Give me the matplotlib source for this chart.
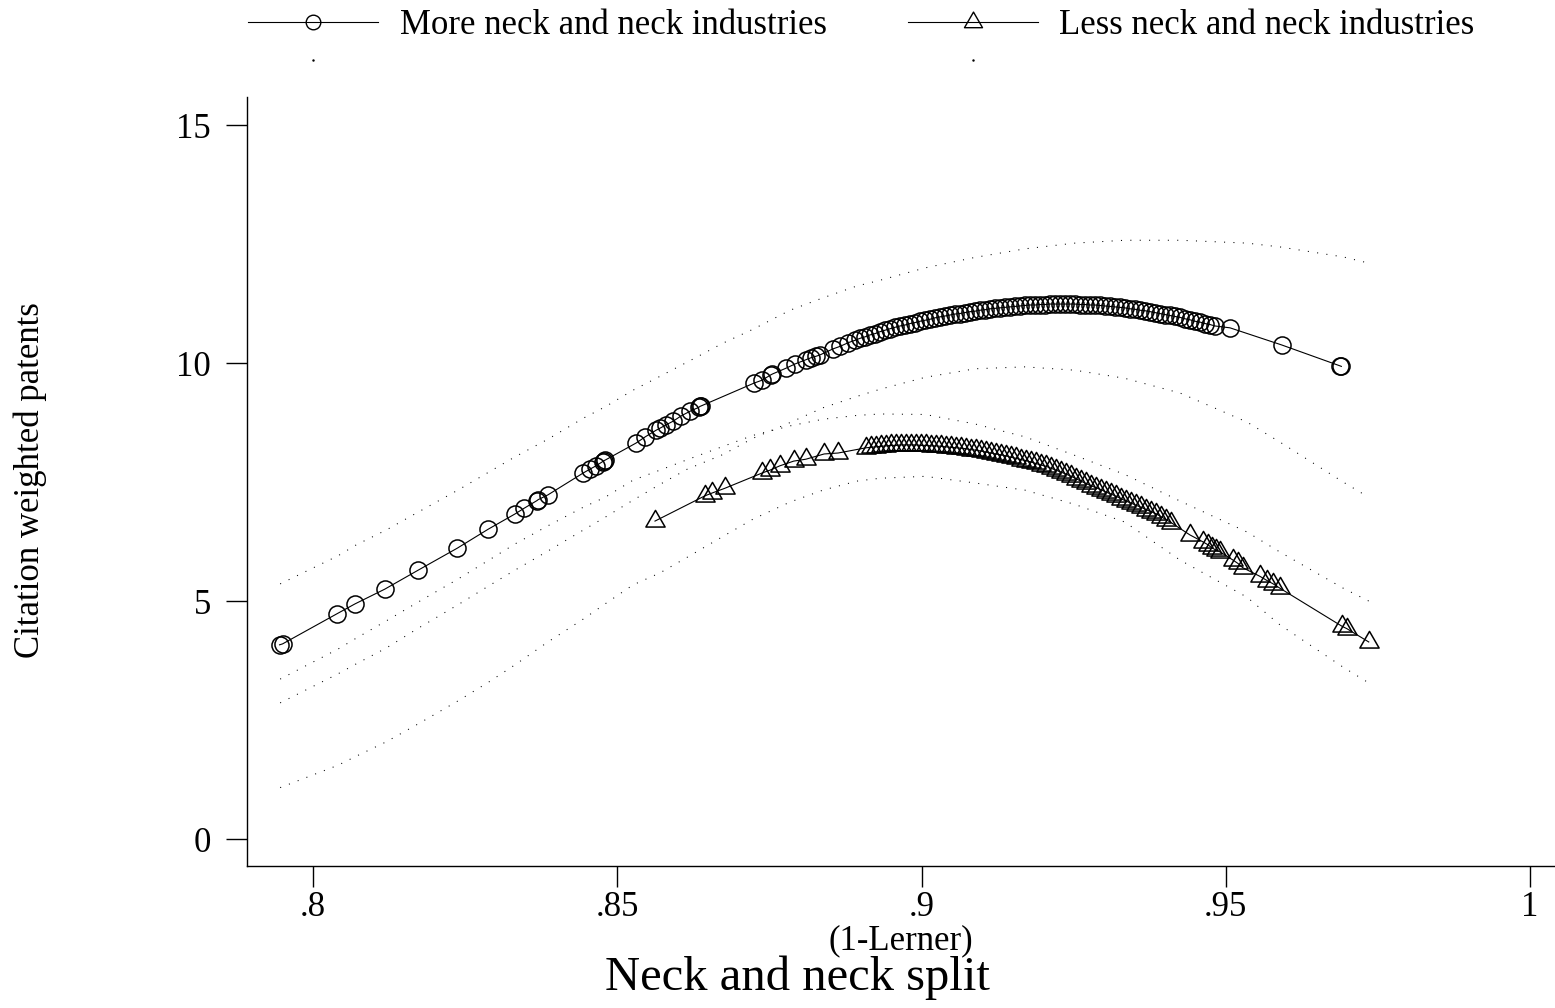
import matplotlib
matplotlib.use('Agg')
import matplotlib.pyplot as plt
from matplotlib.lines import Line2D
from matplotlib.path import Path

plt.rcParams['font.family'] = ['Liberation Serif', 'DejaVu Serif']

# ---------------- data ----------------
series_labels = ["More neck and neck industries", "Less neck and neck industries"]

more_x = [0.7945, 0.7950, 0.8039, 0.8069, 0.8118, 0.8173, 0.8237, 0.8288, 0.8332, 0.8347,
          0.8368, 0.8370, 0.8386, 0.8444, 0.8455, 0.8465, 0.8476, 0.8478, 0.8480,
          0.8531, 0.8546, 0.8564, 0.8570, 0.8580, 0.8592, 0.8605, 0.8620, 0.8634, 0.8636, 0.8638,
          0.8725, 0.8738, 0.8752, 0.8755, 0.8777, 0.8792, 0.8810, 0.8818, 0.8826, 0.8833,
          0.8855, 0.8866, 0.8880, 0.8891,
          0.8899, 0.8907, 0.8915, 0.8924, 0.8932, 0.8940, 0.8948, 0.8956, 0.8965, 0.8973,
          0.8981, 0.8989, 0.8998, 0.9006, 0.9014, 0.9022, 0.9030, 0.9039, 0.9047, 0.9055,
          0.9063, 0.9071, 0.9080, 0.9088, 0.9096, 0.9104, 0.9113, 0.9121, 0.9129, 0.9137,
          0.9145, 0.9154, 0.9162, 0.9170, 0.9178, 0.9187, 0.9195, 0.9203, 0.9211, 0.9219,
          0.9228, 0.9236, 0.9244, 0.9252, 0.9260, 0.9269, 0.9277, 0.9285, 0.9293, 0.9301,
          0.9310, 0.9318, 0.9326, 0.9334, 0.9343, 0.9351, 0.9359, 0.9367, 0.9376, 0.9384,
          0.9392, 0.9400, 0.9408, 0.9416, 0.9425, 0.9433, 0.9441, 0.9449, 0.9458, 0.9466,
          0.9474, 0.9482, 0.9507, 0.9592, 0.9688, 0.9690]
more_y = [4.08, 4.10, 4.73, 4.94, 5.25, 5.65, 6.11, 6.51, 6.83, 6.95,
          7.11, 7.13, 7.23, 7.69, 7.77, 7.84, 7.93, 7.95, 7.96,
          8.32, 8.45, 8.59, 8.63, 8.70, 8.78, 8.89, 8.99, 9.07, 9.09, 9.10,
          9.58, 9.64, 9.75, 9.77, 9.89, 9.98, 10.07, 10.11, 10.14, 10.17,
          10.30, 10.35, 10.43, 10.48,
          10.52, 10.55, 10.59, 10.62, 10.66, 10.69, 10.72, 10.75, 10.78, 10.80,
          10.83, 10.85, 10.88, 10.90, 10.92, 10.95, 10.97, 10.99, 11.01, 11.03,
          11.04, 11.06, 11.08, 11.09, 11.11, 11.12, 11.14, 11.15, 11.16, 11.17,
          11.18, 11.19, 11.20, 11.21, 11.22, 11.22, 11.23, 11.23, 11.24, 11.24,
          11.24, 11.24, 11.24, 11.24, 11.23, 11.23, 11.22, 11.22, 11.21, 11.20,
          11.19, 11.18, 11.17, 11.16, 11.14, 11.13, 11.11, 11.10, 11.08, 11.06,
          11.04, 11.02, 11.00, 10.98, 10.96, 10.93, 10.91, 10.88, 10.86, 10.83,
          10.81, 10.78, 10.74, 10.38, 9.94, 9.93]

less_x = [0.8562, 0.8644, 0.8656, 0.8677, 0.8738, 0.8751, 0.8767, 0.8790, 0.8810, 0.8840, 0.8863,
          0.8909, 0.8917, 0.8925, 0.8933, 0.8942, 0.8950, 0.8958, 0.8966, 0.8975, 0.8983,
          0.8991, 0.8999, 0.9007, 0.9016, 0.9024, 0.9032, 0.9040, 0.9048, 0.9057, 0.9065,
          0.9073, 0.9081, 0.9090, 0.9098, 0.9106, 0.9114, 0.9122, 0.9131, 0.9139, 0.9147,
          0.9155, 0.9164, 0.9172, 0.9180, 0.9188, 0.9196, 0.9205, 0.9213, 0.9221, 0.9229,
          0.9237, 0.9246, 0.9254, 0.9262, 0.9270, 0.9279, 0.9287, 0.9295, 0.9303, 0.9311,
          0.9320, 0.9328, 0.9336, 0.9344, 0.9353, 0.9361, 0.9369, 0.9377, 0.9386, 0.9394,
          0.9402, 0.9410,
          0.9441, 0.9463, 0.9471, 0.9477, 0.9484, 0.9491, 0.9512, 0.9520, 0.9528,
          0.9556, 0.9568, 0.9578, 0.9589, 0.9691, 0.9699, 0.9735]
less_y = [6.68, 7.21, 7.27, 7.37, 7.69, 7.75, 7.84, 7.94, 7.98, 8.09, 8.11,
          8.22, 8.23, 8.24, 8.25, 8.26, 8.27, 8.27, 8.28, 8.28, 8.28,
          8.28, 8.27, 8.27, 8.26, 8.26, 8.25, 8.24, 8.23, 8.22, 8.21,
          8.20, 8.18, 8.17, 8.15, 8.13, 8.11, 8.09, 8.07, 8.05, 8.02,
          8.00, 7.97, 7.95, 7.92, 7.89, 7.86, 7.83, 7.79, 7.75, 7.71,
          7.67, 7.62, 7.57, 7.52, 7.47, 7.42, 7.38, 7.34, 7.29, 7.25,
          7.20, 7.15, 7.10, 7.06, 7.01, 6.97, 6.92, 6.88, 6.83, 6.77,
          6.71, 6.65,
          6.39, 6.24, 6.18, 6.12, 6.07, 6.03, 5.86, 5.79, 5.70,
          5.52, 5.43, 5.36, 5.27, 4.47, 4.42, 4.14]

ci_x = [0.7946, 0.8041, 0.8071, 0.8120, 0.8173, 0.8238, 0.8289, 0.8332, 0.8386, 0.8444,
        0.8480, 0.8526, 0.8570, 0.8615, 0.8674, 0.8723, 0.8784, 0.8838, 0.8894, 0.8932,
        0.9006, 0.9088, 0.9170, 0.9252, 0.9334, 0.9425, 0.9535, 0.9589, 0.9693, 0.9735]
more_ci_hi = [5.36, 5.95, 6.18, 6.49, 6.87, 7.33, 7.71, 8.03, 8.40, 8.84,
              9.08, 9.43, 9.72, 10.02, 10.42, 10.71, 11.11, 11.37, 11.62, 11.74,
              12.00, 12.22, 12.40, 12.52, 12.58, 12.58, 12.52, 12.44, 12.23, 12.10]
more_ci_lo = [2.86, 3.47, 3.68, 4.01, 4.43, 4.92, 5.32, 5.65, 6.05, 6.49,
              6.76, 7.12, 7.45, 7.77, 8.08, 8.42, 8.75, 9.06, 9.30, 9.45,
              9.70, 9.88, 9.92, 9.85, 9.68, 9.37, 8.76, 8.34, 7.50, 7.18]
less_ci_hi = [3.36, 3.99, 4.22, 4.58, 4.98, 5.46, 5.86, 6.20, 6.58, 6.97,
              7.18, 7.54, 7.75, 7.97, 8.25, 8.48, 8.68, 8.82, 8.90, 8.93,
              8.92, 8.72, 8.45, 8.06, 7.66, 7.10, 6.45, 6.03, 5.27, 5.00]
less_ci_lo = [1.08, 1.55, 1.74, 2.04, 2.42, 2.90, 3.30, 3.66, 4.14, 4.62,
              4.94, 5.34, 5.59, 5.92, 6.36, 6.72, 7.08, 7.33, 7.52, 7.58,
              7.62, 7.48, 7.33, 7.03, 6.66, 5.86, 5.08, 4.50, 3.61, 3.28]

x_ticks = [0.8, 0.85, 0.9, 0.95, 1.0]
x_ticklabels = [".8", ".85", ".9", ".95", "1"]
y_ticks = [0, 5, 10, 15]
y_ticklabels = ["0", "5", "10", "15"]

# ---------------- figure ----------------
W, H = 1555, 1008
fig = plt.figure(figsize=(W / 100, H / 100), dpi=100)
ax = fig.add_axes([247 / W, 1 - 866 / H, 1 - 247 / W, (866 - 97) / H])

tri = Path([(-1, -0.577), (1, -0.577), (0, 1.155), (-1, -0.577)],
           [Path.MOVETO, Path.LINETO, Path.LINETO, Path.CLOSEPOLY])

dot_style = (0, (1, 8))
for hi, lo in ((more_ci_hi, more_ci_lo), (less_ci_hi, less_ci_lo)):
    ax.plot(ci_x, hi, color='black', lw=0.75, ls=dot_style)
    ax.plot(ci_x, lo, color='black', lw=0.75, ls=dot_style)

ax.plot(more_x, more_y, color='black', lw=0.8, marker='o', ms=12.3,
        mfc='none', mec='black', mew=1.1)
ax.plot(less_x, less_y, color='black', lw=0.8, marker=tri, ms=16,
        mfc='none', mec='black', mew=1.1)

ax.set_xlim(0.78915, 1.00411)
ax.set_ylim(-0.567, 15.59)
ax.set_xticks(x_ticks)
ax.set_xticklabels(x_ticklabels)
ax.set_yticks(y_ticks)
ax.set_yticklabels(y_ticklabels)
for s in ('top', 'right'):
    ax.spines[s].set_visible(False)
for s in ('left', 'bottom'):
    ax.spines[s].set_linewidth(1.0)
ax.tick_params(axis='both', direction='out', length=15, width=1.0, labelsize=25)
ax.tick_params(axis='y', pad=11)
ax.tick_params(axis='x', pad=3)

fig.text((247 + W) / 2 / W, 1 - 941 / H, "(1-Lerner)", ha='center', va='center', fontsize=25)
fig.text(797 / W, 1 - 978 / H, "Neck and neck split", ha='center', va='center', fontsize=35)
fig.text(30 / W, 1 - 480 / H, "Citation weighted patents", ha='center', va='center',
         rotation=90, fontsize=25)

h_more = Line2D([], [], color='black', lw=0.8, marker='o', ms=10.5, mfc='none', mew=1.0)
h_less = Line2D([], [], color='black', lw=0.8, marker=tri, ms=15, mfc='none', mew=1.0)
h_ci = Line2D([], [], color='black', ls='none', marker='.', ms=1.5)
fig.legend([h_more, h_ci, h_less, h_ci],
           [series_labels[0], "", series_labels[1], ""],
           ncol=2, loc='upper left', bbox_to_anchor=(248 / W, 1 - 9 / H),
           frameon=False, fontsize=25, handlelength=3.74, handletextpad=0.63,
           columnspacing=2.33, borderpad=0, borderaxespad=0, labelspacing=0.15)

fig.savefig('out.png', dpi=100)
